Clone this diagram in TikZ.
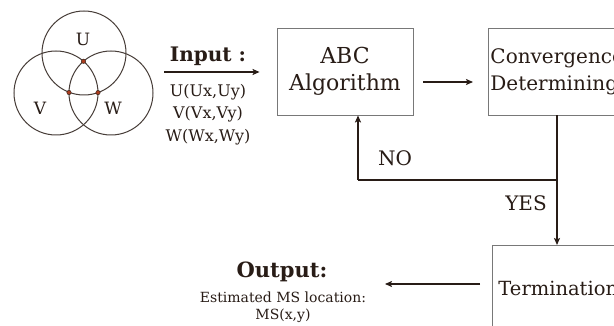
\documentclass[tikz,border=0pt]{standalone}
\usepackage{fontspec}
\setmainfont{DejaVu Serif}
\usetikzlibrary{arrows.meta}
\definecolor{ink}{RGB}{40,28,22}
\definecolor{boxline}{RGB}{120,120,120}
\definecolor{dotred}{RGB}{170,60,30}
\tikzset{
  arr/.style={draw=ink, line width=1.5pt, -{Stealth[length=7pt,width=6pt,inset=1.5pt]}},
  flow/.style={draw=ink, line width=1.5pt},
  stepbox/.style={draw=boxline, line width=0.9pt, text=ink,
    font=\fontsize{22}{27}\selectfont, inner ysep=0pt},
  ring/.style={draw=ink!85, line width=1pt},
  spot/.style={fill=dotred, draw=ink, line width=0.4pt},
  lbl/.style={text=ink, inner sep=0pt},
}
\begin{document}
\begin{tikzpicture}[x=1pt,y=-1pt]
\useasboundingbox (0,0) rectangle (614,326);
\clip (0,0) rectangle (614,326);
\fill[white] (0,0) rectangle (614,326);

% three overlapping circles
\coordinate (cu) at (84,53);
\coordinate (cv) at (56,93);
\coordinate (cw) at (111,93);
\draw[ring] (cu) circle[radius=42];
\draw[ring] (cv) circle[radius=42];
\draw[ring] (cw) circle[radius=42];
\node[lbl, font=\fontsize{17}{20}\selectfont] (lu) at (83,39) {U};
\node[lbl, font=\fontsize{17}{20}\selectfont] (lv) at (40,108) {V};
\node[lbl, font=\fontsize{17}{20}\selectfont] (lw) at (113,108) {W};
\coordinate (pvw) at (83.5,61.3);
\coordinate (puw) at (69,92.5);
\coordinate (puv) at (98,92.6);
\foreach \p in {pvw,puw,puv} \fill[spot] (\p) circle[radius=2.2];

% input labels
\node[lbl, font=\bfseries\fontsize{20}{24}\selectfont, anchor=base] (inp) at (208,62) {Input :};
\node[lbl, font=\fontsize{16}{19}\selectfont] (iu) at (208,92) {U(Ux,Uy)};
\node[lbl, font=\fontsize{16}{19}\selectfont] (iv) at (208,114) {V(Vx,Vy)};
\node[lbl, font=\fontsize{16}{19}\selectfont] (iw) at (208,137) {W(Wx,Wy)};

% process boxes
\node[stepbox, align=center, minimum width=136, minimum height=87] (abc) at (345,71.5) {ABC\\Algorithm};
\node[stepbox, align=left, anchor=west, inner xsep=2pt, minimum height=87,
  font=\fontsize{20}{27}\selectfont] (conv) at (488,71.5) {Convergence\\Determining};
\node[stepbox, anchor=north west, inner xsep=6pt, minimum height=87,
  font=\fontsize{19.5}{24}\selectfont] (term) at (492,245) {Termination};

% connectors
\coordinate (vin) at (164,72);
\draw[arr, shorten >=17pt] (vin) -- (vin -| abc.west);
\coordinate (ab) at (413,82);
\draw[arr, shorten <=10pt, shorten >=15pt] (ab) -- (ab -| conv.west);
\coordinate (split) at (557,180);
\coordinate (back) at (358,180);
\draw[flow] (conv.south -| split) -- (split) -- (back);
\draw[arr] (back) -- (back |- abc.south);
\draw[arr] (split) -- (split |- term.north);
\coordinate (outp) at (385,284);
\draw[arr, shorten <=12pt] (outp -| term.west) -- (outp);

\node[lbl, font=\fontsize{20}{24}\selectfont] (no) at (395,158) {NO};
\node[lbl, font=\fontsize{20}{24}\selectfont] (yes) at (526,203) {YES};

% output labels
\node[lbl, font=\bfseries\fontsize{21}{25}\selectfont] (out) at (282,272) {Output:};
\node[lbl, font=\fontsize{14}{16}\selectfont] (est) at (283,297) {Estimated MS location:};
\node[lbl, font=\fontsize{14}{16}\selectfont] (ms) at (283,316) {MS(x,y)};
\end{tikzpicture}
\end{document}
